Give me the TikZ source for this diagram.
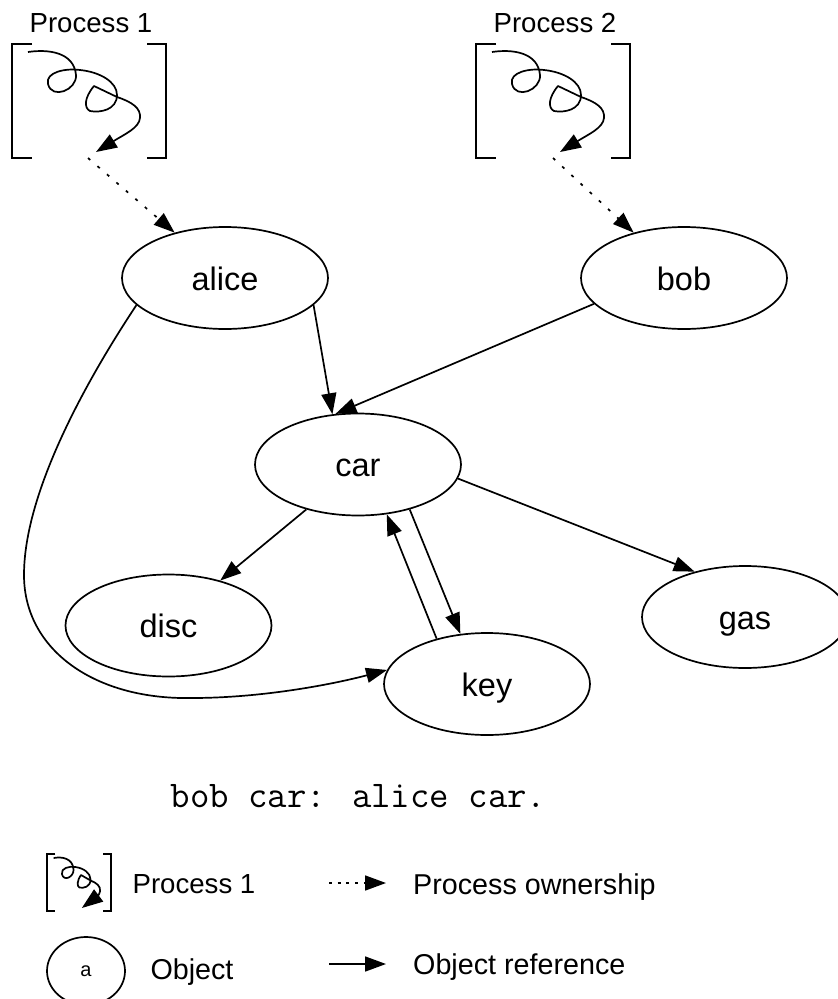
\documentclass[tikz,border=0pt]{standalone}
\usepackage{fontspec}
\setmainfont{Liberation Sans}
\usetikzlibrary{arrows.meta, shapes.geometric}

\begin{document}
\begin{tikzpicture}[
    x=1pt, y=-1pt,
    object/.style={ellipse, draw=black, line width=1.7pt, fill=white,
        minimum width=206pt, minimum height=102pt, inner sep=0pt,
        text height=24pt, text depth=0pt, font=\fontsize{32.5}{36}\selectfont},
    label/.style={inner sep=0pt, text height=20pt, text depth=0pt,
        font=\fontsize{28.7}{32}\selectfont},
    title/.style={label, font=\fontsize{27.6}{32}\selectfont},
    ref/.style={line width=1.7pt, -{Triangle[length=21pt,width=15pt]}},
    own/.style={line width=1.7pt, dash pattern=on 3pt off 9.5pt, -{Triangle[length=21pt,width=15pt]}},
    ownkey/.style={own, dash pattern=on 3pt off 5.7pt},
    process/.pic={
        \draw[line width=1.7pt] (32,44) -- (12,44) -- (12,158) -- (32,158);
        \draw[line width=1.7pt] (147,44) -- (166,44) -- (166,158) -- (147,158);
        \draw[ref, line join=round] (28,52) .. controls (48,49) and (74,52) .. (76,75)
            .. controls (77,90) and (52,100) .. (48,84)
            .. controls (45,72) and (66,68) .. (80,70)
            .. controls (100,72) and (117,82) .. (117,95)
            .. controls (117,110) and (100,113) .. (90,111)
            .. controls (84,108) and (84,98) .. (94,86)
            -- (117,97) .. controls (132,102) and (141,108) .. (140,118)
            .. controls (139,128) and (125,134) .. (96,152);
    }
]
    \useasboundingbox (0,0) rectangle (838,999);

    % processes
    \pic at (0,0) {process};
    \pic at (464,0) {process};
    \node[title] (p1) at (91,22) {Process 1};
    \node[title] (p2) at (555,22) {Process 2};
    \coordinate (own1) at (88,158);
    \coordinate (own2) at (553,158);

    % objects
    \node[object] (alice) at (225,278) {alice};
    \node[object] (bob) at (684,278) {bob};
    \node[object] (car) at (358,464.5) {car};
    \node[object] (disc) at (168.5,625.5) {disc};
    \node[object] (key) at (487,684) {key};
    \node[object] (gas) at (745,617) {gas};

    \draw[own] (own1) -- (alice.138.5);
    \draw[own] (own2) -- (bob.138.5);
    \draw[ref] (alice.-17) -- (car.117.7);
    \draw[ref] (bob.196) -- (car.114);
    \draw[ref] (car.221) -- (disc.41.5);
    \draw[ref] (car.-41) -- (key.118.8);
    \draw[ref] (key.138.5) -- (car.-60);
    \draw[ref] (car.-8.6) -- (gas.138.5);
    \draw[ref] (alice.197) .. controls (90,375) and (24,490) .. (24,575)
        .. controls (24,650) and (95,700) .. (192,698)
        .. controls (260,698) and (330,685) .. (key.172.6);

    \node[inner sep=0pt, text height=24pt, text depth=0pt,
        font=\ttfamily\fontsize{37.7}{40}\selectfont] (code) at (358.6,795) {bob car: alice car.};

    % legend
    \pic[xscale=.415, yscale=.5] at (42,832) {process};
    \node[title] (lproc) at (194,883) {Process 1};
    \node[ellipse, draw=black, line width=1.7pt, minimum width=78pt, minimum height=68pt,
        inner sep=0pt, font=\fontsize{20}{22}\selectfont] (lobj) at (86,971) {a};
    \node[label] (lobjt) at (192,969) {Object};
    \coordinate (lown) at (329,883);
    \coordinate (lownend) at (386,883);
    \coordinate (lref) at (329,964);
    \coordinate (lrefend) at (386,964);
    \node[label, anchor=west] (ltown) at (413,884) {Process ownership};
    \node[label, anchor=west] (ltref) at (413,964) {Object reference};
    \draw[ownkey] (lown) -- (lownend);
    \draw[ref] (lref) -- (lrefend);
\end{tikzpicture}
\end{document}
